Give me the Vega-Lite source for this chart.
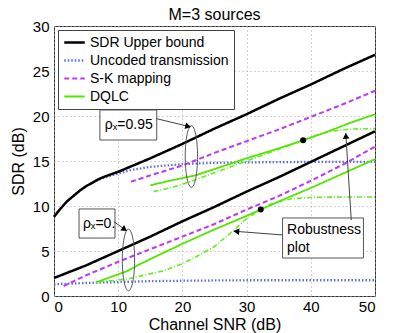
{
  "$schema": "https://vega.github.io/schema/vega-lite/v6.json",
  "width": 321,
  "height": 270,
  "autosize": {"type": "none"},
  "padding": {"left": 54, "top": 26, "right": 40, "bottom": 37},
  "background": "white",
  "title": {"text": "M=3 sources", "fontSize": 16, "fontWeight": "normal", "font": "Liberation Sans", "color": "black", "offset": -4},
  "config": {
    "view": {"stroke": "#333", "strokeWidth": 1},
    "axis": {
      "labelFont": "Liberation Sans", "labelFontSize": 15, "labelColor": "black",
      "titleFont": "Liberation Sans", "titleFontSize": 16, "titleFontWeight": "normal", "titleColor": "black",
      "gridColor": "#aaa", "gridDash": [1, 3], "gridOpacity": 1, "domain": false, "ticks": false
    },
    "legend": {"clipHeight": 15}
  },
  "datasets": {
    "curves": [
      {"m": "Uncoded transmission", "c": "UN95", "x": 0, "y": 8.8},
      {"m": "Uncoded transmission", "c": "UN95", "x": 1, "y": 9.7},
      {"m": "Uncoded transmission", "c": "UN95", "x": 2, "y": 10.5},
      {"m": "Uncoded transmission", "c": "UN95", "x": 3, "y": 11.1},
      {"m": "Uncoded transmission", "c": "UN95", "x": 4, "y": 11.7},
      {"m": "Uncoded transmission", "c": "UN95", "x": 5, "y": 12.2},
      {"m": "Uncoded transmission", "c": "UN95", "x": 6, "y": 12.6},
      {"m": "Uncoded transmission", "c": "UN95", "x": 7, "y": 12.95},
      {"m": "Uncoded transmission", "c": "UN95", "x": 8, "y": 13.2},
      {"m": "Uncoded transmission", "c": "UN95", "x": 10, "y": 13.6},
      {"m": "Uncoded transmission", "c": "UN95", "x": 12, "y": 14.0},
      {"m": "Uncoded transmission", "c": "UN95", "x": 15, "y": 14.35},
      {"m": "Uncoded transmission", "c": "UN95", "x": 20, "y": 14.65},
      {"m": "Uncoded transmission", "c": "UN95", "x": 25, "y": 14.8},
      {"m": "Uncoded transmission", "c": "UN95", "x": 30, "y": 14.85},
      {"m": "Uncoded transmission", "c": "UN95", "x": 40, "y": 14.9},
      {"m": "Uncoded transmission", "c": "UN95", "x": 50, "y": 14.9},
      {"m": "Uncoded transmission", "c": "UN0", "x": 0, "y": 1.3},
      {"m": "Uncoded transmission", "c": "UN0", "x": 5, "y": 1.45},
      {"m": "Uncoded transmission", "c": "UN0", "x": 10, "y": 1.55},
      {"m": "Uncoded transmission", "c": "UN0", "x": 15, "y": 1.65},
      {"m": "Uncoded transmission", "c": "UN0", "x": 20, "y": 1.7},
      {"m": "Uncoded transmission", "c": "UN0", "x": 30, "y": 1.75},
      {"m": "Uncoded transmission", "c": "UN0", "x": 50, "y": 1.75},
      {"m": "S-K mapping", "c": "SK95", "x": 12, "y": 12.7},
      {"m": "S-K mapping", "c": "SK95", "x": 15, "y": 13.4},
      {"m": "S-K mapping", "c": "SK95", "x": 20, "y": 14.5},
      {"m": "S-K mapping", "c": "SK95", "x": 25, "y": 15.9},
      {"m": "S-K mapping", "c": "SK95", "x": 30, "y": 17.2},
      {"m": "S-K mapping", "c": "SK95", "x": 35, "y": 18.5},
      {"m": "S-K mapping", "c": "SK95", "x": 40, "y": 19.9},
      {"m": "S-K mapping", "c": "SK95", "x": 45, "y": 21.3},
      {"m": "S-K mapping", "c": "SK95", "x": 50, "y": 22.8},
      {"m": "S-K mapping", "c": "SK0", "x": 1.5, "y": 1.1},
      {"m": "S-K mapping", "c": "SK0", "x": 5, "y": 2.3},
      {"m": "S-K mapping", "c": "SK0", "x": 10, "y": 3.8},
      {"m": "S-K mapping", "c": "SK0", "x": 15, "y": 5.2},
      {"m": "S-K mapping", "c": "SK0", "x": 20, "y": 6.6},
      {"m": "S-K mapping", "c": "SK0", "x": 25, "y": 8.0},
      {"m": "S-K mapping", "c": "SK0", "x": 30, "y": 9.6},
      {"m": "S-K mapping", "c": "SK0", "x": 35, "y": 11.1},
      {"m": "S-K mapping", "c": "SK0", "x": 40, "y": 12.8},
      {"m": "S-K mapping", "c": "SK0", "x": 45, "y": 14.6},
      {"m": "S-K mapping", "c": "SK0", "x": 50, "y": 16.6},
      {"m": "Robustness", "c": "RB95", "x": 15.5, "y": 11.6},
      {"m": "Robustness", "c": "RB95", "x": 18, "y": 12.0},
      {"m": "Robustness", "c": "RB95", "x": 20, "y": 12.4},
      {"m": "Robustness", "c": "RB95", "x": 25, "y": 13.7},
      {"m": "Robustness", "c": "RB95", "x": 30, "y": 15.0},
      {"m": "Robustness", "c": "RB95", "x": 35, "y": 16.3},
      {"m": "Robustness", "c": "RB95", "x": 38.8, "y": 17.3},
      {"m": "Robustness", "c": "RB95", "x": 41, "y": 17.9},
      {"m": "Robustness", "c": "RB95", "x": 43, "y": 18.3},
      {"m": "Robustness", "c": "RB95", "x": 46, "y": 18.55},
      {"m": "Robustness", "c": "RB95", "x": 50, "y": 18.6},
      {"m": "Robustness", "c": "RB0", "x": 7, "y": 1.6},
      {"m": "Robustness", "c": "RB0", "x": 9, "y": 1.7},
      {"m": "Robustness", "c": "RB0", "x": 11.5, "y": 1.9},
      {"m": "Robustness", "c": "RB0", "x": 14, "y": 2.3},
      {"m": "Robustness", "c": "RB0", "x": 17, "y": 2.8},
      {"m": "Robustness", "c": "RB0", "x": 20, "y": 3.6},
      {"m": "Robustness", "c": "RB0", "x": 22.5, "y": 4.5},
      {"m": "Robustness", "c": "RB0", "x": 25, "y": 5.5},
      {"m": "Robustness", "c": "RB0", "x": 27.5, "y": 7.0},
      {"m": "Robustness", "c": "RB0", "x": 30, "y": 8.6},
      {"m": "Robustness", "c": "RB0", "x": 32.2, "y": 9.6},
      {"m": "Robustness", "c": "RB0", "x": 34, "y": 10.3},
      {"m": "Robustness", "c": "RB0", "x": 37, "y": 10.8},
      {"m": "Robustness", "c": "RB0", "x": 40, "y": 10.95},
      {"m": "Robustness", "c": "RB0", "x": 45, "y": 11.0},
      {"m": "Robustness", "c": "RB0", "x": 50, "y": 11.0},
      {"m": "DQLC", "c": "DQ95", "x": 15, "y": 12.3},
      {"m": "DQLC", "c": "DQ95", "x": 18, "y": 12.8},
      {"m": "DQLC", "c": "DQ95", "x": 20, "y": 13.1},
      {"m": "DQLC", "c": "DQ95", "x": 22, "y": 13.4},
      {"m": "DQLC", "c": "DQ95", "x": 25, "y": 14.1},
      {"m": "DQLC", "c": "DQ95", "x": 30, "y": 15.3},
      {"m": "DQLC", "c": "DQ95", "x": 35, "y": 16.4},
      {"m": "DQLC", "c": "DQ95", "x": 38.8, "y": 17.3},
      {"m": "DQLC", "c": "DQ95", "x": 42, "y": 18.1},
      {"m": "DQLC", "c": "DQ95", "x": 46, "y": 19.2},
      {"m": "DQLC", "c": "DQ95", "x": 50, "y": 20.2},
      {"m": "DQLC", "c": "DQ0", "x": 6.5, "y": 1.5},
      {"m": "DQLC", "c": "DQ0", "x": 8, "y": 1.9},
      {"m": "DQLC", "c": "DQ0", "x": 10, "y": 2.4},
      {"m": "DQLC", "c": "DQ0", "x": 11.5, "y": 2.8},
      {"m": "DQLC", "c": "DQ0", "x": 13, "y": 3.4},
      {"m": "DQLC", "c": "DQ0", "x": 15, "y": 4.1},
      {"m": "DQLC", "c": "DQ0", "x": 20, "y": 5.8},
      {"m": "DQLC", "c": "DQ0", "x": 25, "y": 7.4},
      {"m": "DQLC", "c": "DQ0", "x": 30, "y": 8.9},
      {"m": "DQLC", "c": "DQ0", "x": 32.2, "y": 9.6},
      {"m": "DQLC", "c": "DQ0", "x": 35, "y": 10.5},
      {"m": "DQLC", "c": "DQ0", "x": 40, "y": 12.0},
      {"m": "DQLC", "c": "DQ0", "x": 45, "y": 13.6},
      {"m": "DQLC", "c": "DQ0", "x": 50, "y": 15.2},
      {"m": "SDR Upper bound", "c": "UB95", "x": 0, "y": 8.8},
      {"m": "SDR Upper bound", "c": "UB95", "x": 1, "y": 9.7},
      {"m": "SDR Upper bound", "c": "UB95", "x": 2, "y": 10.5},
      {"m": "SDR Upper bound", "c": "UB95", "x": 3, "y": 11.1},
      {"m": "SDR Upper bound", "c": "UB95", "x": 4, "y": 11.7},
      {"m": "SDR Upper bound", "c": "UB95", "x": 5, "y": 12.2},
      {"m": "SDR Upper bound", "c": "UB95", "x": 6, "y": 12.6},
      {"m": "SDR Upper bound", "c": "UB95", "x": 7, "y": 13.0},
      {"m": "SDR Upper bound", "c": "UB95", "x": 8, "y": 13.3},
      {"m": "SDR Upper bound", "c": "UB95", "x": 10, "y": 13.8},
      {"m": "SDR Upper bound", "c": "UB95", "x": 12, "y": 14.4},
      {"m": "SDR Upper bound", "c": "UB95", "x": 15, "y": 15.3},
      {"m": "SDR Upper bound", "c": "UB95", "x": 20, "y": 16.9},
      {"m": "SDR Upper bound", "c": "UB95", "x": 25, "y": 18.6},
      {"m": "SDR Upper bound", "c": "UB95", "x": 30, "y": 20.2},
      {"m": "SDR Upper bound", "c": "UB95", "x": 35, "y": 21.9},
      {"m": "SDR Upper bound", "c": "UB95", "x": 40, "y": 23.5},
      {"m": "SDR Upper bound", "c": "UB95", "x": 45, "y": 25.2},
      {"m": "SDR Upper bound", "c": "UB95", "x": 50, "y": 26.8},
      {"m": "SDR Upper bound", "c": "UB0", "x": 0, "y": 2.0},
      {"m": "SDR Upper bound", "c": "UB0", "x": 5, "y": 3.4},
      {"m": "SDR Upper bound", "c": "UB0", "x": 10, "y": 5.0},
      {"m": "SDR Upper bound", "c": "UB0", "x": 15, "y": 6.6},
      {"m": "SDR Upper bound", "c": "UB0", "x": 20, "y": 8.3},
      {"m": "SDR Upper bound", "c": "UB0", "x": 25, "y": 9.9},
      {"m": "SDR Upper bound", "c": "UB0", "x": 30, "y": 11.6},
      {"m": "SDR Upper bound", "c": "UB0", "x": 35, "y": 13.2},
      {"m": "SDR Upper bound", "c": "UB0", "x": 40, "y": 14.9},
      {"m": "SDR Upper bound", "c": "UB0", "x": 45, "y": 16.6},
      {"m": "SDR Upper bound", "c": "UB0", "x": 50, "y": 18.3}
    ]
  },
  "layer": [
    {
      "data": {"name": "curves"},
      "mark": {"type": "line", "strokeCap": "butt"},
      "encoding": {
        "x": {"field": "x", "type": "quantitative", "scale": {"domain": [0, 50], "nice": false}, "axis": {"values": [0, 10, 20, 30, 40, 50], "title": "Channel SNR (dB)", "labelPadding": 3, "titlePadding": 2}},
        "y": {"field": "y", "type": "quantitative", "scale": {"domain": [0, 30], "nice": false}, "axis": {"values": [0, 5, 10, 15, 20, 25, 30], "title": "SDR (dB)", "labelPadding": 5, "titlePadding": 6}},
        "detail": {"field": "c"},
        "order": {"field": "x"},
        "color": {
          "field": "m", "type": "nominal",
          "scale": {"domain": ["SDR Upper bound", "Uncoded transmission", "S-K mapping", "DQLC", "Robustness"], "range": ["#000000", "#5a6cf0", "#bb3cf5", "#55e600", "#66ee22"]},
          "legend": {"orient": "none", "legendX": 4, "legendY": 4, "title": null, "values": ["SDR Upper bound", "Uncoded transmission", "S-K mapping", "DQLC"], "symbolType": "stroke", "symbolSize": 420, "symbolStrokeWidth": 2, "labelFont": "Liberation Sans", "labelFontSize": 14, "labelColor": "black", "fillColor": "white", "strokeColor": "#444", "padding": 5, "rowPadding": 3, "labelOffset": 4, "cornerRadius": 0, "clipHeight": 15}
        },
        "strokeDash": {
          "field": "m", "type": "nominal",
          "scale": {"domain": ["SDR Upper bound", "Uncoded transmission", "S-K mapping", "DQLC", "Robustness"], "range": [[1, 0], [1.5, 2], [5, 3], [1, 0], [5, 2, 1, 2]]},
          "legend": {"orient": "none", "legendX": 4, "legendY": 4, "title": null, "values": ["SDR Upper bound", "Uncoded transmission", "S-K mapping", "DQLC"], "symbolType": "stroke", "symbolSize": 420, "symbolStrokeWidth": 2, "labelFont": "Liberation Sans", "labelFontSize": 14, "labelColor": "black", "fillColor": "white", "strokeColor": "#444", "padding": 5, "rowPadding": 3, "labelOffset": 4, "cornerRadius": 0, "clipHeight": 15}
        },
        "strokeWidth": {
          "field": "m", "type": "nominal",
          "scale": {"domain": ["SDR Upper bound", "Uncoded transmission", "S-K mapping", "DQLC", "Robustness"], "range": [2.5, 1.6, 1.5, 1.5, 1]},
          "legend": null
        }
      }
    },
    {
      "data": {"values": [{"x": 38.8, "y": 17.3}, {"x": 32.2, "y": 9.6}]},
      "mark": {"type": "point", "filled": true, "color": "black", "size": 36, "opacity": 1},
      "encoding": {"x": {"field": "x", "type": "quantitative"}, "y": {"field": "y", "type": "quantitative"}}
    },
    {
      "data": {"values": [
        {"x1": 7.15, "x2": 16.0, "y1": 17.33, "y2": 20.67},
        {"x1": 3.9, "x2": 9.5, "y1": 6.44, "y2": 9.67},
        {"x1": 35.6, "x2": 48.2, "y1": 4.22, "y2": 8.67}
      ]},
      "mark": {"type": "rect", "fill": "white", "stroke": "#555", "strokeWidth": 1},
      "encoding": {
        "x": {"field": "x1", "type": "quantitative"}, "x2": {"field": "x2"},
        "y": {"field": "y1", "type": "quantitative"}, "y2": {"field": "y2"}
      }
    },
    {
      "data": {"values": [
        {"x": 7.9, "y": 19.0, "t": "ρₓ=0.95"},
        {"x": 4.5, "y": 8.0, "t": "ρₓ=0."},
        {"x": 36.3, "y": 7.35, "t": "Robustness"},
        {"x": 36.3, "y": 5.35, "t": "plot"}
      ]},
      "mark": {"type": "text", "align": "left", "baseline": "middle", "font": "Liberation Sans", "fontSize": 14, "color": "black"},
      "encoding": {"x": {"field": "x", "type": "quantitative"}, "y": {"field": "y", "type": "quantitative"}, "text": {"field": "t"}}
    },
    {
      "data": {"values": [{"x": 21.4, "y": 15.5}, {"x": 11.6, "y": 4.0}]},
      "mark": {"type": "point", "shape": "M0,-1A0.2,1,0,1,1,0,1A0.2,1,0,1,1,0,-1Z", "filled": false, "stroke": "#555", "strokeWidth": 1, "size": 3800, "opacity": 1},
      "encoding": {"x": {"field": "x", "type": "quantitative"}, "y": {"field": "y", "type": "quantitative"}}
    },
    {
      "data": {"values": [
        {"x1": 16.0, "y1": 19.7, "x2": 21.2, "y2": 18.8},
        {"x1": 9.33, "y1": 8.26, "x2": 11.2, "y2": 7.3},
        {"x1": 46.3, "y1": 8.44, "x2": 45.45, "y2": 18.1},
        {"x1": 35.66, "y1": 6.78, "x2": 28.0, "y2": 7.2}
      ]},
      "mark": {"type": "rule", "color": "#444", "strokeWidth": 1},
      "encoding": {
        "x": {"field": "x1", "type": "quantitative"}, "x2": {"field": "x2"},
        "y": {"field": "y1", "type": "quantitative"}, "y2": {"field": "y2"}
      }
    },
    {
      "data": {"values": [{"x": 20.9, "y": 18.85}]},
      "mark": {"type": "point", "shape": "triangle-right", "filled": true, "color": "black", "size": 45, "angle": 13, "opacity": 1},
      "encoding": {"x": {"field": "x", "type": "quantitative"}, "y": {"field": "y", "type": "quantitative"}}
    },
    {
      "data": {"values": [{"x": 11.0, "y": 7.4}]},
      "mark": {"type": "point", "shape": "triangle-right", "filled": true, "color": "black", "size": 45, "angle": 35, "opacity": 1},
      "encoding": {"x": {"field": "x", "type": "quantitative"}, "y": {"field": "y", "type": "quantitative"}}
    },
    {
      "data": {"values": [{"x": 45.47, "y": 17.8}]},
      "mark": {"type": "point", "shape": "triangle-right", "filled": true, "color": "black", "size": 45, "angle": 266, "opacity": 1},
      "encoding": {"x": {"field": "x", "type": "quantitative"}, "y": {"field": "y", "type": "quantitative"}}
    },
    {
      "data": {"values": [{"x": 28.4, "y": 7.18}]},
      "mark": {"type": "point", "shape": "triangle-right", "filled": true, "color": "black", "size": 45, "angle": 185, "opacity": 1},
      "encoding": {"x": {"field": "x", "type": "quantitative"}, "y": {"field": "y", "type": "quantitative"}}
    }
  ]
}
